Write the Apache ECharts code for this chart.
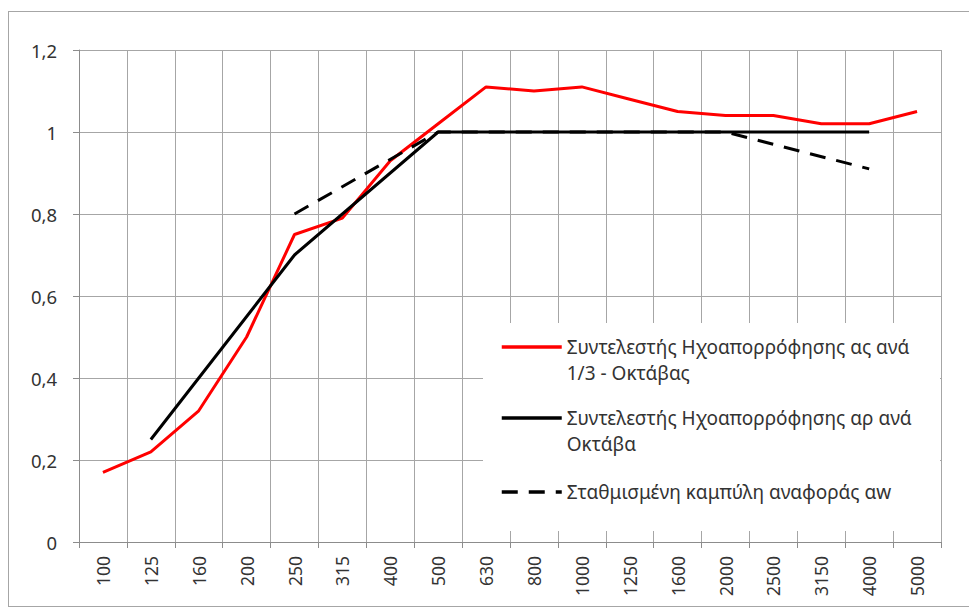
<!DOCTYPE html>
<html>
<head>
<meta charset="utf-8">
<script src="https://cdn.jsdelivr.net/npm/echarts@6/dist/echarts.min.js"></script>
<style>
  html, body { margin: 0; padding: 0; background: #fff; }
  #frame { position: absolute; left: 8px; top: 11px; width: 975px; height: 594px; border: 1.5px solid #a6a6a6; }
  #chart { position: absolute; left: 0; top: 0; width: 969px; height: 608px; }
</style>
</head>
<body>
<div id="frame"></div>
<div id="chart"></div>
<script>
// frequency bands (Hz)
const freqs = ['100', '125', '160', '200', '250', '315', '400', '500', '630', '800',
  '1000', '1250', '1600', '2000', '2500', '3150', '4000', '5000'];

// 1/3 octave absorption coefficient
const alphaS = [0.17, 0.22, 0.32, 0.50, 0.75, 0.79, 0.93, 1.02, 1.11, 1.10,
  1.11, 1.08, 1.05, 1.04, 1.04, 1.02, 1.02, 1.05];

// octave band absorption coefficient
const alphaP = [null, 0.25, null, null, 0.70, null, null, 1.00, null, null,
  1.00, null, null, 1.00, null, null, 1.00, null];

// weighted reference curve
const alphaW = [null, null, null, null, 0.80, null, null, 1.00, null, null,
  1.00, null, null, 1.00, null, null, 0.91, null];

const names = [
  'Συντελεστής Ηχοαπορρόφησης ας ανά 1/3 - Οκτάβας',
  'Συντελεστής Ηχοαπορρόφησης αρ ανά Οκτάβα',
  'Σταθμισμένη καμπύλη αναφοράς αw'
];
// leading blank line keeps the icon level with the first text line
const legendText = {
  [names[0]]: '\nΣυντελεστής Ηχοαπορρόφησης ας ανά\n1/3 - Οκτάβας',
  [names[1]]: '\nΣυντελεστής Ηχοαπορρόφησης αρ ανά\nΟκτάβα',
  [names[2]]: 'Σταθμισμένη καμπύλη αναφοράς αw'
};

const font = 'Noto Sans';
const chart = echarts.init(document.getElementById('chart'), null, { renderer: 'svg' });

chart.setOption({
  animation: false,
  textStyle: { fontFamily: font },
  grid: { left: 79, right: 28, top: 50, bottom: 66 },
  // white box behind the legend (covers the grid lines like in the original)
  graphic: [{
    type: 'rect', z: 1,
    shape: { x: 483, y: 323, width: 457, height: 208 },
    style: { fill: '#fff' }
  }],
  legend: {
    orient: 'vertical',
    left: 500,
    top: 308,
    padding: 0,
    itemGap: -7,
    itemWidth: 60,
    itemHeight: 14,
    itemStyle: { opacity: 0 },
    lineStyle: { width: 3.5 },
    textStyle: { fontSize: 19, color: '#333', lineHeight: 26, fontFamily: font },
    formatter: (n) => legendText[n],
    data: [
      { name: names[0] },
      { name: names[1] },
      { name: names[2], textStyle: { padding: [29, 0, 29, 0] } }
    ]
  },
  xAxis: {
    type: 'category',
    data: freqs,
    boundaryGap: true,
    axisLine: { lineStyle: { color: '#8c8c8c', width: 1 } },
    axisTick: { show: true, length: 6, lineStyle: { color: '#8c8c8c' } },
    axisLabel: { rotate: 90, margin: 14, fontSize: 17.5, color: '#333', interval: 0 },
    splitLine: { show: true, interval: 0, lineStyle: { color: '#a6a6a6', width: 1 } }
  },
  yAxis: {
    type: 'value',
    min: 0,
    max: 1.2,
    interval: 0.2,
    axisLine: { show: true, lineStyle: { color: '#8c8c8c', width: 1 } },
    axisTick: { show: true, length: 6, lineStyle: { color: '#8c8c8c' } },
    axisLabel: {
      margin: 22, fontSize: 18.5, color: '#333',
      formatter: (v) => String(+v.toFixed(1)).replace('.', ',')
    },
    splitLine: { show: true, lineStyle: { color: '#a6a6a6', width: 1 } }
  },
  series: [
    {
      name: names[0], type: 'line', data: alphaS,
      showSymbol: false, symbol: 'none',
      lineStyle: { color: '#ff0000', width: 3 },
      itemStyle: { color: '#ff0000' }
    },
    {
      name: names[1], type: 'line', data: alphaP, connectNulls: true,
      showSymbol: false, symbol: 'none',
      lineStyle: { color: '#000', width: 3 },
      itemStyle: { color: '#000' }
    },
    {
      name: names[2], type: 'line', data: alphaW, connectNulls: true,
      showSymbol: false, symbol: 'none',
      lineStyle: { color: '#000', width: 3, type: [16, 11] },
      itemStyle: { color: '#000' }
    }
  ]
});
</script>
</body>
</html>
